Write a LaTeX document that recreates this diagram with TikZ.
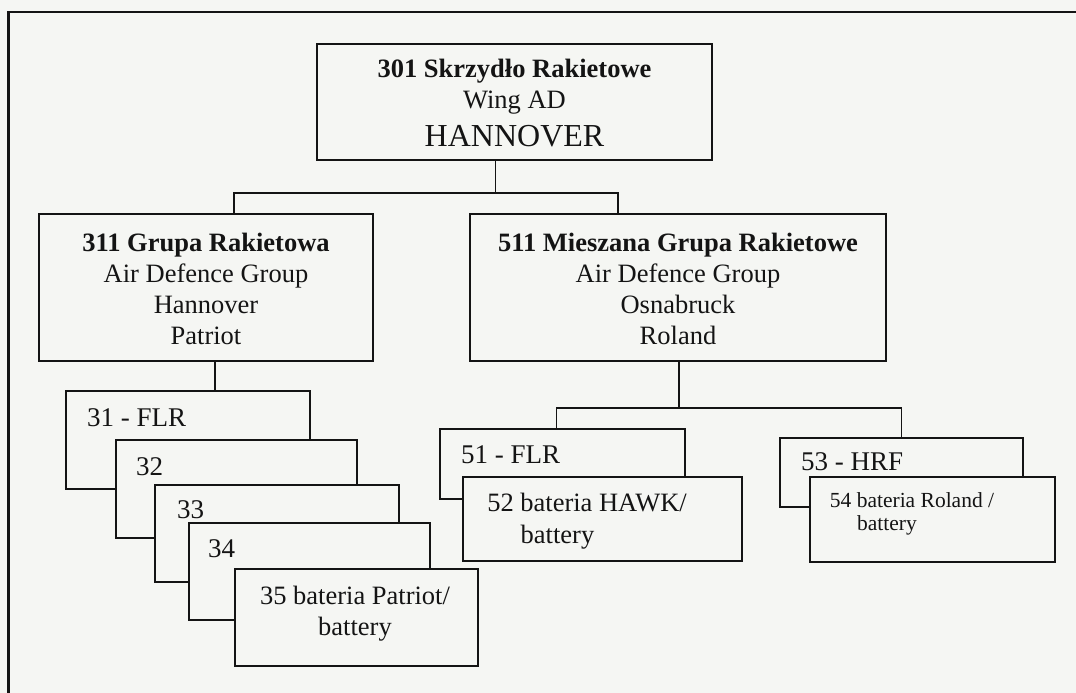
\documentclass[tikz,border=0pt]{standalone}
\usepackage{fontspec}
\setmainfont{Liberation Serif}
\usetikzlibrary{calc,positioning}
\definecolor{paperc}{HTML}{F5F6F3}
\definecolor{inkc}{HTML}{141414}
\tikzset{
  unit/.style={draw=inkc, line width=2pt, fill=paperc, inner sep=0pt, anchor=north west},
  txt/.style={inner sep=0pt, align=center, text=inkc, font=\fontsize{26.5}{31}\selectfont},
  tag/.style={inner sep=0pt, anchor=base west, text=inkc, font=\fontsize{27}{31}\selectfont},
  link/.style={draw=inkc, line width=1.6pt},
}

\begin{document}
\begin{tikzpicture}[x=1pt, y=-1pt]
  \fill[paperc] (0,0) rectangle (1076,693);
  \useasboundingbox (0,0) rectangle (1076,693);
  \draw[inkc, line width=2.2pt] (8.5,693) -- (8.5,12) -- (1076,12);

  \node[unit, minimum width=395pt, minimum height=116pt] (wing) at (316,43) {};
  \node[txt] (wingt) at ($(wing.center)+(0,1)$) {\textbf{301 Skrzydło Rakietowe}\\Wing AD\\[7pt]{\fontsize{32}{37}\selectfont HANNOVER}};
  \node[unit, minimum width=334pt, minimum height=147pt] (grp311) at (38,213) {};
  \node[txt] (grp311t) at ($(grp311.center)+(0,1)$) {\textbf{311 Grupa Rakietowa}\\Air Defence Group\\Hannover\\Patriot};
  \node[unit, minimum width=416pt, minimum height=147pt] (grp511) at (469,213) {};
  \node[txt] (grp511t) at ($(grp511.center)+(0,1)$) {\textbf{511 Mieszana Grupa Rakietowe}\\Air Defence Group\\Osnabruck\\Roland};

  \node[unit, minimum width=244pt, minimum height=98pt] (b31) at (65,390) {};
  \node[tag] (b31t) at ($(b31.north west)+(22,36)$) {31 - FLR};
  \node[unit, minimum width=241pt, minimum height=98pt] (b32) at (115,439) {};
  \node[tag] (b32t) at ($(b32.north west)+(21,36)$) {32};
  \node[unit, minimum width=244pt, minimum height=97pt] (b33) at (154,484) {};
  \node[tag] (b33t) at ($(b33.north west)+(23,34)$) {33};
  \node[unit, minimum width=241pt, minimum height=97pt] (b34) at (188,522) {};
  \node[tag] (b34t) at ($(b34.north west)+(20,35)$) {34};
  \node[unit, minimum width=243pt, minimum height=97pt] (b35) at (234,568) {};
  \node[txt] (b35t) at ($(b35.center)+(-1.5,-4)$) {35 bateria Patriot/\\battery};

  \node[unit, minimum width=245pt, minimum height=70pt] (b51) at (439,428) {};
  \node[tag] (b51t) at ($(b51.north west)+(22,35)$) {51 - FLR};
  \node[unit, minimum width=279pt, minimum height=84pt] (b52) at (462,476) {};
  \node[txt, font=\fontsize{26.5}{32}\selectfont] (b52t) at ($(b52.center)+(-15.5,2)$) {52 bateria HAWK/\\battery\hspace*{59pt}};
  \node[unit, minimum width=243pt, minimum height=69pt] (b53) at (779,437) {};
  \node[tag] (b53t) at ($(b53.north west)+(22,33)$) {53 - HRF};
  \node[unit, minimum width=245pt, minimum height=85pt] (b54) at (809,476) {};
  \node[txt, font=\fontsize{21.5}{23}\selectfont] (b54t) at ($(b54.center)+(-20.5,-6)$) {54 bateria Roland /\\battery\hspace*{50pt}};

  \coordinate (j0) at ($(wing.south)+(-19,32)$);
  \draw[link] (wing.south -| j0) -- (j0);
  \draw[link] (j0) -| ($(grp311.north)+(28,0)$);
  \draw[link] (j0) -| ($(grp511.north)+(-60,0)$);
  \coordinate (j1) at ($(grp311.south)+(9,0)$);
  \draw[link] (j1) -- (j1 |- b31.north);
  \coordinate (j2) at ($(grp511.south)+(1,46)$);
  \draw[link] (grp511.south -| j2) -- (j2);
  \draw[link] (j2) -| ($(b51.north)+(-6,0)$);
  \draw[link] (j2) -| (b53.north);
\end{tikzpicture}
\end{document}
